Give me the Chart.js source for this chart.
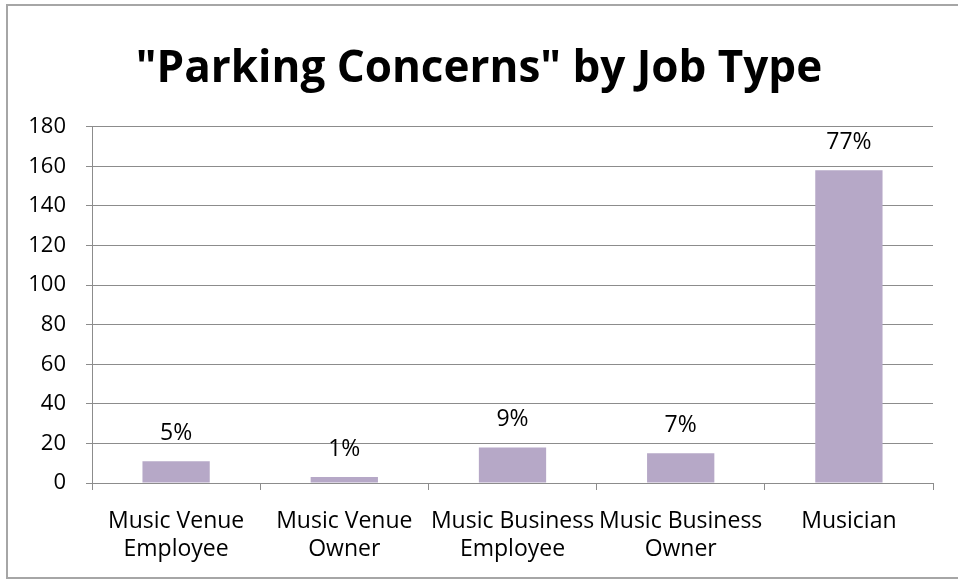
<!DOCTYPE html>
<html>
<head>
<meta charset="utf-8">
<script src="https://cdn.jsdelivr.net/npm/chart.js@4/dist/chart.umd.min.js"></script>
<style>
  html, body { margin: 0; padding: 0; background: #fff; }
  #wrap { position: relative; width: 958px; height: 581px; overflow: hidden; }
  #frame {
    position: absolute; left: 6px; top: 4px; width: 1000px; height: 575px;
    border: 2px solid #a6a6a6; box-sizing: border-box;
  }
  canvas { position: absolute; left: 0; top: 0; }
</style>
</head>
<body>
<div id="wrap">
  <div id="frame"></div>
  <canvas id="parkingChart" width="958" height="581"></canvas>
</div>
<script>
const jobTypes = [
  ['Music Venue', 'Employee'],
  ['Music Venue', 'Owner'],
  ['Music Business', 'Employee'],
  ['Music Business', 'Owner'],
  'Musician',
];
const concernCounts = [11, 3, 18, 15, 158];
const concernShares = ['5%', '1%', '9%', '7%', '77%'];
const yTicks = [0, 20, 40, 60, 80, 100, 120, 140, 160, 180];

const FONT_FAMILY = '"Open Sans", Lato, sans-serif';
const GRID_COLOR = '#8c8c8c';

// percent labels above each bar
const barLabels = {
  id: 'barLabels',
  afterDatasetsDraw(chart) {
    const { ctx } = chart;
    const meta = chart.getDatasetMeta(0);
    ctx.save();
    ctx.font = `23px ${FONT_FAMILY}`;
    ctx.fillStyle = '#000';
    ctx.textAlign = 'center';
    ctx.textBaseline = 'middle';
    meta.data.forEach((bar, i) => {
      const { x, y } = bar.getProps(['x', 'y'], true);
      ctx.fillText(concernShares[i], x, y - 28);
    });
    ctx.restore();
  },
};

new Chart(document.querySelector('#parkingChart'), {
  type: 'bar',
  data: {
    labels: jobTypes,
    datasets: [
      {
        data: concernCounts,
        backgroundColor: '#b6a8c7',
        borderWidth: 0,
        barPercentage: 0.4,
        categoryPercentage: 1,
      },
    ],
  },
  options: {
    responsive: false,
    animation: false,
    layout: { padding: { left: 25, right: 25, top: 0, bottom: 0 } },
    plugins: {
      legend: { display: false },
      tooltip: { enabled: false },
      title: {
        display: true,
        text: '"Parking Concerns" by Job Type',
        color: '#000',
        font: { family: FONT_FAMILY, size: 44, weight: 'bold', lineHeight: 1.2 },
        padding: { top: 43, bottom: 31 },
      },
    },
    scales: {
      x: {
        grid: {
          offset: true,
          drawOnChartArea: false,
          drawTicks: true,
          tickLength: 7,
          color: GRID_COLOR,
        },
        border: { color: GRID_COLOR, width: 1 },
        ticks: {
          color: '#000',
          font: { family: FONT_FAMILY, size: 23, lineHeight: 1.22 },
          padding: 17,
          maxRotation: 0,
          autoSkip: false,
        },
        afterFit(scale) {
          scale.height = 98;
        },
      },
      y: {
        min: 0,
        max: 180,
        afterBuildTicks(scale) {
          scale.ticks = yTicks.map((v) => ({ value: v }));
        },
        grid: {
          color: GRID_COLOR,
          tickLength: 6,
        },
        border: { color: GRID_COLOR, width: 1 },
        ticks: {
          color: '#000',
          font: { family: FONT_FAMILY, size: 22 },
          padding: 20,
        },
        afterFit(scale) {
          scale.width = 67;
        },
      },
    },
  },
  plugins: [barLabels],
});
</script>
</body>
</html>
